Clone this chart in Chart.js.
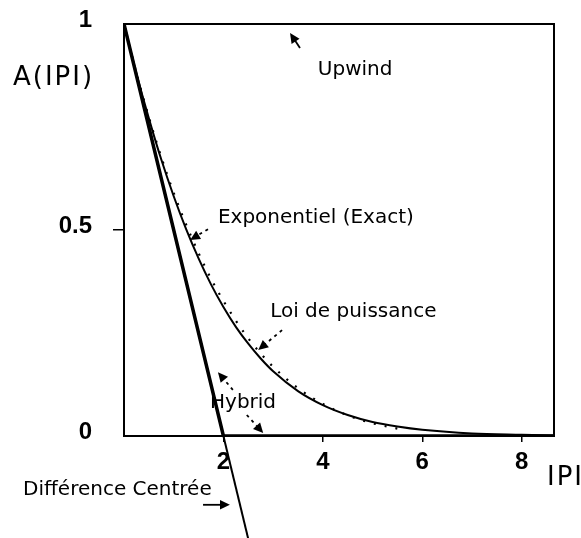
<!DOCTYPE html>
<html>
<head>
<meta charset="utf-8">
<title>A(|P|)</title>
<script src="https://cdn.jsdelivr.net/npm/chart.js@4.4.0/dist/chart.umd.min.js"></script>
<style>
  html, body { margin: 0; padding: 0; background: #fff; }
  canvas { display: block; }
</style>
</head>
<body>
<canvas id="schemes" width="581" height="538"></canvas>
<script>
// Fonction A(|P|) des différents schémas
const exactP = [0, 0.25, 0.5, 0.75, 1, 1.25, 1.5, 1.75, 2, 2.25, 2.5, 2.75, 3, 3.5, 4, 4.5, 5, 5.5, 6, 7, 8, 8.65];
const exactValues = [1, 0.880, 0.771, 0.671, 0.582, 0.502, 0.431, 0.368, 0.313, 0.265, 0.224, 0.188, 0.157, 0.109, 0.075, 0.051, 0.034, 0.023, 0.015, 0.006, 0.003, 0.0015];

const powerLawP = [0, 0.25, 0.5, 0.75, 1, 1.25, 1.5, 1.75, 2, 2.25, 2.5, 2.75, 3, 3.5, 4, 4.5, 5, 5.5];
const powerLawValues = [1, 0.881, 0.774, 0.677, 0.590, 0.513, 0.444, 0.382, 0.328, 0.280, 0.237, 0.200, 0.168, 0.116, 0.078, 0.050, 0.031, 0.018];

const centralP = [0, 2.5];
const centralValues = [1, -0.25];

const hybridP = [0, 2, 8.65];
const hybridValues = [1, 0, 0];

const upwindP = [0, 8.65];
const upwindValues = [1, 1];

const xTickValues = [2, 4, 6, 8];
const yTickValues = [0, 0.5, 1];
const yTickLabels = ['0', '0.5', '1'];

const toXY = (xs, ys) => xs.map((x, i) => ({ x, y: ys[i] }));

// étiquettes et flèches, en coordonnées du graphe
const notes = [
    { text: 'Upwind', at: [3.90, 0.876] },
    { text: 'Exponentiel (Exact)', at: [1.89, 0.517] },
    { text: 'Loi de puissance', at: [2.94, 0.289] },
    { text: 'Hybrid', at: [1.73, 0.068] },
    { text: 'Différence Centrée', at: [-2.03, -0.143] }
];
const arrows = [
    { from: [3.54, 0.942], to: [3.34, 0.978], dashed: false },
    { from: [1.69, 0.502], to: [1.33, 0.476], dashed: true },
    { from: [3.18, 0.257], to: [2.70, 0.209], dashed: true },
    { from: [2.19, 0.112], to: [1.89, 0.155], dashed: true },
    { from: [2.47, 0.051], to: [2.80, 0.007], dashed: true },
    { from: [1.59, -0.167], to: [2.13, -0.167], dashed: false }
];

const textFont = '20px "DejaVu Sans"';
const titleFont = '26px "DejaVu Sans"';

function drawArrow(ctx, x0, y0, x1, y1, dashed) {
    const ang = Math.atan2(y1 - y0, x1 - x0);
    const len = 11;
    ctx.save();
    ctx.lineWidth = 1.8;
    ctx.setLineDash(dashed ? [3, 4] : []);
    ctx.beginPath();
    ctx.moveTo(x0, y0);
    ctx.lineTo(x1 - Math.cos(ang) * len * 0.6, y1 - Math.sin(ang) * len * 0.6);
    ctx.stroke();
    ctx.setLineDash([]);
    ctx.beginPath();
    ctx.moveTo(x1, y1);
    ctx.lineTo(x1 - len * Math.cos(ang - 0.45), y1 - len * Math.sin(ang - 0.45));
    ctx.lineTo(x1 - len * Math.cos(ang + 0.45), y1 - len * Math.sin(ang + 0.45));
    ctx.closePath();
    ctx.fill();
    ctx.restore();
}

// cadre, titres des axes et annotations
const framePlugin = {
    id: 'frame',
    afterDatasetsDraw(chart) {
        const { ctx, chartArea: a, scales: { x, y } } = chart;
        ctx.save();
        ctx.strokeStyle = '#000';
        ctx.fillStyle = '#000';
        ctx.lineWidth = 2;
        ctx.strokeRect(a.left, a.top, a.right - a.left, a.bottom - a.top);

        ctx.font = titleFont;
        ctx.letterSpacing = '2px';
        ctx.textBaseline = 'alphabetic';
        ctx.fillText('A(IPI)', a.left - 111, a.top + 61);
        ctx.fillText('IPI', a.right - 7, a.bottom + 49);

        ctx.font = textFont;
        ctx.letterSpacing = '0px';
        notes.forEach(n => {
            ctx.fillText(n.text, x.getPixelForValue(n.at[0]), y.getPixelForValue(n.at[1]));
        });
        arrows.forEach(ar => {
            drawArrow(ctx,
                x.getPixelForValue(ar.from[0]), y.getPixelForValue(ar.from[1]),
                x.getPixelForValue(ar.to[0]), y.getPixelForValue(ar.to[1]),
                ar.dashed);
        });
        ctx.restore();
    }
};

const tickFont = { family: '"Liberation Sans", Arial', size: 24, weight: 'bold' };

new Chart(document.getElementById('schemes'), {
    type: 'line',
    data: {
        datasets: [
            {
                label: 'Upwind',
                data: toXY(upwindP, upwindValues),
                borderColor: '#000',
                borderWidth: 2
            },
            {
                label: 'Exponentiel (Exact)',
                data: toXY(exactP, exactValues),
                borderColor: '#000',
                borderWidth: 2,
                cubicInterpolationMode: 'monotone'
            },
            {
                label: 'Loi de puissance',
                data: toXY(powerLawP, powerLawValues),
                borderColor: '#000',
                borderWidth: 2.2,
                borderDash: [2, 9],
                cubicInterpolationMode: 'monotone'
            },
            {
                label: 'Hybrid',
                data: toXY(hybridP, hybridValues),
                borderColor: '#000',
                borderWidth: 3.5
            },
            {
                label: 'Différence Centrée',
                data: toXY(centralP, centralValues),
                borderColor: '#000',
                borderWidth: 2,
                clip: false
            }
        ]
    },
    options: {
        responsive: false,
        animation: false,
        layout: { padding: { top: 24, right: 27, left: 0, bottom: 0 } },
        elements: { point: { radius: 0 } },
        plugins: {
            legend: { display: false },
            tooltip: { enabled: false }
        },
        scales: {
            x: {
                type: 'linear',
                min: 0,
                max: 8.65,
                afterBuildTicks: scale => { scale.ticks = xTickValues.map(v => ({ value: v })); },
                afterFit: scale => { scale.height = 102; },
                border: { display: false },
                grid: { drawOnChartArea: false, color: '#000', lineWidth: 1.5, tickLength: 6 },
                ticks: { color: '#000', font: tickFont, padding: 6, maxRotation: 0 }
            },
            y: {
                type: 'linear',
                min: 0,
                max: 1,
                afterBuildTicks: scale => { scale.ticks = yTickValues.map(v => ({ value: v })); },
                afterFit: scale => {
                    scale.width = 124;
                    scale.paddingTop = 0;
                    scale.paddingBottom = 0;
                },
                border: { display: false },
                grid: {
                    drawOnChartArea: false,
                    lineWidth: 1.5,
                    tickLength: 11,
                    color: c => (c.tick && c.tick.value === 0.5 ? '#000' : 'rgba(0,0,0,0)')
                },
                ticks: {
                    color: '#000',
                    font: tickFont,
                    padding: 21,
                    labelOffset: -4,
                    callback: v => yTickLabels[yTickValues.indexOf(v)]
                }
            }
        }
    },
    plugins: [framePlugin]
});
</script>
</body>
</html>
